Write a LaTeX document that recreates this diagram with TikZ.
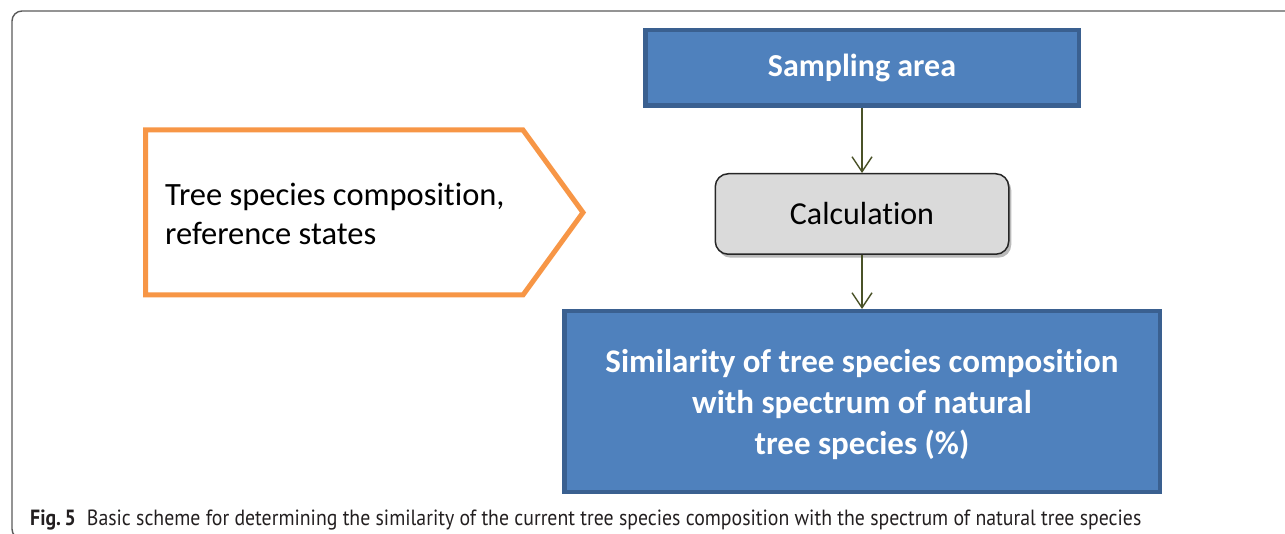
\documentclass[tikz,border=0pt]{standalone}
\usepackage{fontspec}
\setmainfont{Carlito}[RawFeature=-liga]
\newfontfamily\capfont{PT Sans}[FakeStretch=0.9]
\usetikzlibrary{arrows.meta,shadows}

\definecolor{boxblue}{HTML}{4F81BD}
\definecolor{boxblueline}{HTML}{3A6090}
\definecolor{calcgray}{HTML}{DADADA}
\definecolor{arrowolive}{HTML}{4A5228}
\definecolor{refline}{HTML}{F79646}
\definecolor{framegray}{HTML}{5A5A5A}
\definecolor{captext}{HTML}{231F20}

\tikzset{
  bluebox/.style={draw=boxblueline, fill=boxblue, line width=4.5pt,
    inner sep=0pt, text=white, align=center},
  bluetext/.style={inner sep=0pt, text=white, align=center},
  calcbox/.style={draw=black!85, fill=calcgray, line width=1.5pt, rounded corners=13pt,
    inner sep=0pt, font=\fontsize{32}{39}\selectfont,
    drop shadow={shadow xshift=2.5pt, shadow yshift=-3.5pt, fill=black!45, opacity=0.6}},
  refshape/.style={draw=refline, fill=white, line width=5pt, line join=miter},
  flow/.style={draw=arrowolive, line width=1.4pt,
    -{Straight Barb[length=15pt, width=20pt, line width=1.4pt]}},
  frameline/.style={draw=framegray, line width=1.4pt, rounded corners=10pt},
}

\begin{document}
\begin{tikzpicture}[x=1pt, y=-1pt]
\useasboundingbox (0,0) rectangle (1285,534);

% outer frame (top and left edges)
\draw[frameline] (1300,11) -- (12,11) -- (12,539) -- (60,539);

% reference-state pentagon
\draw[refshape] (145.5,130) -- (523,130) -- (583,212.5) -- (523,295) -- (145.5,295) -- cycle;
\node[anchor=west, align=left, inner sep=0pt, font=\fontsize{32.5}{39}\selectfont]
  (ref) at (165,214) {Tree species composition,\\reference states};

% flow boxes
\node[bluebox, minimum width=433.5pt, minimum height=75.5pt,
  font=\bfseries\fontsize{32}{41}\selectfont] (samp) at (862,68) {Sampling area};
\node[calcbox, minimum width=293.5pt, minimum height=80.5pt] (calc) at (862,214) {Calculation};
\node[bluebox, minimum width=595.5pt, minimum height=180.5pt] (res) at (862,401.5) {};
\node[bluetext, font=\bfseries\fontsize{33}{41}\selectfont] (restext) at (862,404.5)
  {Similarity of tree species composition\\with spectrum of natural\\tree species (\%)};

% connectors
\draw[flow] (samp.south) -- (calc.north);
\draw[flow] (calc.south) -- (res.north);

% caption
\node[anchor=base west, inner sep=0pt, text=captext, font=\capfont\fontsize{22}{26}\selectfont]
  (cap) at (30,525) {\textbf{Fig.\,5}\enspace Basic scheme for determining the similarity of the current tree species composition with the spectrum of natural tree species};
\end{tikzpicture}
\end{document}
